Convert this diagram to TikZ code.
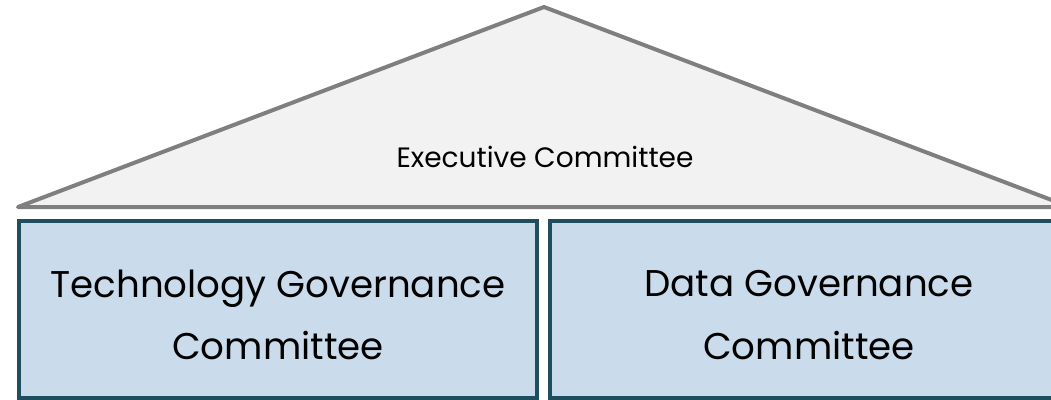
\documentclass[tikz,border=0pt]{standalone}
\usepackage{fontspec}
\setmainfont{Poppins}
\usepackage{tikz}
\usetikzlibrary{positioning}
\usepackage{xcolor}
\definecolor{roofline}{HTML}{7F7F7F}
\definecolor{rooffill}{HTML}{F2F2F2}
\definecolor{boxline}{HTML}{1F4E5F}
\definecolor{boxfill}{HTML}{CADCEC}

\begin{document}
\begin{tikzpicture}[x=0.75pt,y=-0.75pt,
  cbox/.style={draw=boxline,fill=boxfill,line width=3pt,outer sep=0pt,
    minimum width=388.5pt,minimum height=132.75pt},
  ctext/.style={align=center,font=\fontsize{27.9}{47}\selectfont},
  every node/.style={text=black}]
 \path[use as bounding box,clip] (0,0) rectangle (1051,400);
 % roof
 \coordinate (rl) at (18,207);
 \coordinate (apex) at (544,7);
 \coordinate (rr) at (1070,207);
 \draw[roofline,fill=rooffill,line width=3pt,line join=round] (rl) -- (apex) -- (rr) -- cycle;
 \node[anchor=base,font=\fontsize{21}{26}\selectfont] (exec) at (545,167) {Executive Committee};
 % committees
 \node[cbox] (tech) at (278,309.5) {};
 \node[cbox,right=9.75pt of tech] (data) {};
 \node[ctext] (techtxt) at ([yshift=-4pt]tech.center) {Technology Governance\\ Committee};
 \node[ctext] (datatxt) at ([yshift=-4pt]data.center) {Data Governance\\ Committee};
\end{tikzpicture}
\end{document}
